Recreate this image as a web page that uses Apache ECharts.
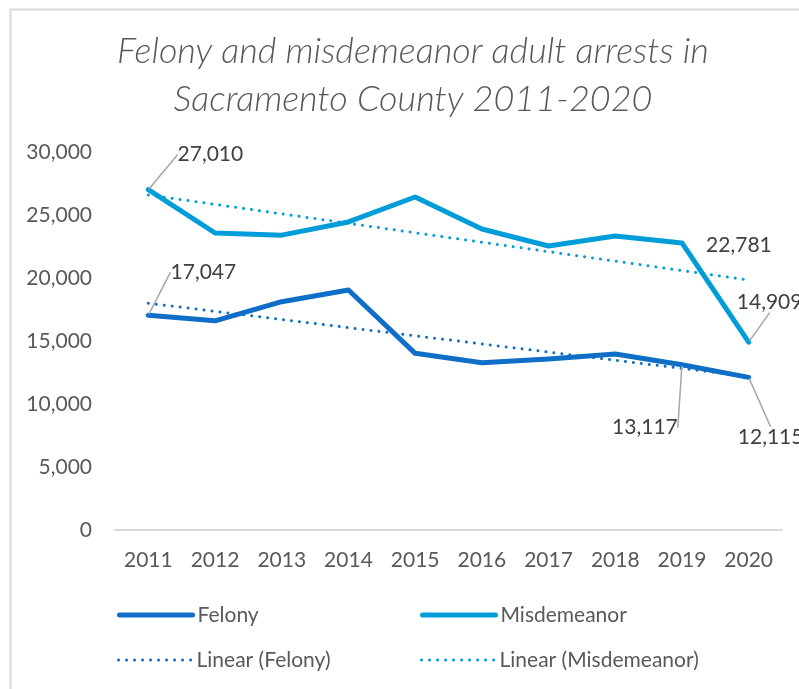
<!DOCTYPE html>
<html>
<head>
<meta charset="utf-8">
<script src="https://cdn.jsdelivr.net/npm/echarts@6/dist/echarts.min.js"></script>
<style>
  html, body { margin: 0; padding: 0; background: #fff; }
  #chart { width: 799px; height: 689px; }
</style>
</head>
<body>
<div id="chart"></div>
<script>
// years on the x axis
const years = ['2011', '2012', '2013', '2014', '2015', '2016', '2017', '2018', '2019', '2020'];
// adult arrests (labelled points are exact)
const felony = [17047, 16600, 18120, 19050, 14020, 13280, 13570, 13970, 13117, 12115];
const misdemeanor = [27010, 23570, 23400, 24450, 26430, 23890, 22540, 23330, 22781, 14909];
// trendline ends (2011 and 2020)
const felonyTrend = [18000, null, null, null, null, null, null, null, null, 12180];
const misdemeanorTrend = [26590, null, null, null, null, null, null, null, null, 19840];
// which points carry a value label
const felonyLabelled = [0, 8, 9];
const misdemeanorLabelled = [0, 8, 9];

const FONT = 'Lato';
const felonyColor = '#0F6FC6';
const misdColor = '#009DD9';

// label offsets from the point (pixels), keyed "series-index"
const labelShift = {
  '0-0': [55, -43], '0-8': [-37, 63], '0-9': [22, 60],
  '1-0': [62, -35], '1-8': [57, 2], '1-9': [21, -40]
};

function withLabels(values, labelled, noLine) {
  return values.map(function (v, i) {
    if (labelled.indexOf(i) < 0) return v;
    return {
      value: v,
      symbol: 'circle',
      symbolSize: 2,
      label: { show: true },
      labelLine: { show: noLine.indexOf(i) < 0 }
    };
  });
}

const fmt = v => v.toLocaleString('en-US');

let myChart = echarts.init(document.getElementById('chart'));
let option = {
  animation: false,
  backgroundColor: '#fff',
  textStyle: { fontFamily: FONT },
  graphic: [{
    type: 'rect',
    left: 8, top: 7,
    shape: { width: 900, height: 800 },
    style: { fill: 'none', stroke: '#d9d9d9', lineWidth: 2 },
    silent: true
  }],
  title: {
    text: 'Felony and misdemeanor adult arrests in\nSacramento County 2011-2020',
    left: 413,
    top: 27,
    padding: 0,
    textAlign: 'center',
    textStyle: {
      fontFamily: FONT, fontStyle: 'italic', fontWeight: 300,
      fontSize: 36, lineHeight: 48, color: '#595959'
    }
  },
  legend: [
    { data: ['Felony'], left: 112, top: 598 },
    { data: ['Misdemeanor'], left: 415, top: 598 },
    { data: ['Linear (Felony)'], left: 112, top: 643 },
    { data: ['Linear (Misdemeanor)'], left: 415, top: 643 }
  ].map(l => Object.assign(l, {
    itemWidth: 73, itemHeight: 14, itemGap: 0,
    lineStyle: { width: 'inherit' },
    itemStyle: { opacity: 0 },
    textStyle: { fontFamily: FONT, fontSize: 21, color: '#595959', lineHeight: 24 }
  })),
  grid: { left: 115, right: 17, top: 152, bottom: 159 },
  xAxis: {
    type: 'category',
    data: years,
    boundaryGap: true,
    axisLine: { lineStyle: { color: '#d9d9d9', width: 2 } },
    axisTick: { show: false },
    axisLabel: { margin: 20, fontFamily: FONT, fontSize: 21, color: '#595959' }
  },
  yAxis: {
    type: 'value',
    min: 0, max: 30000, interval: 5000,
    axisLine: { show: false },
    axisTick: { show: false },
    splitLine: { show: false },
    axisLabel: { margin: 23, fontFamily: FONT, fontSize: 21, color: '#595959', formatter: fmt }
  },
  series: [
    {
      name: 'Felony', type: 'line',
      data: withLabels(felony, felonyLabelled, []),
      symbol: 'none',
      lineStyle: { color: felonyColor, width: 5, join: 'round', cap: 'round' },
      itemStyle: { color: felonyColor },
      label: {
        position: 'inside', fontFamily: FONT, fontSize: 21, color: '#404040',
        formatter: p => fmt(p.value)
      },
      labelLine: { lineStyle: { color: '#a6a6a6', width: 1.5 } },
      labelLayout: p => { const s = labelShift['0-' + p.dataIndex] || [0, 0]; return { dx: s[0], dy: s[1] }; },
      z: 3
    },
    {
      name: 'Misdemeanor', type: 'line',
      data: withLabels(misdemeanor, misdemeanorLabelled, [8]),
      symbol: 'none',
      lineStyle: { color: misdColor, width: 5, join: 'round', cap: 'round' },
      itemStyle: { color: misdColor },
      label: {
        position: 'inside', fontFamily: FONT, fontSize: 21, color: '#404040',
        formatter: p => fmt(p.value)
      },
      labelLine: { lineStyle: { color: '#a6a6a6', width: 1.5 } },
      labelLayout: p => { const s = labelShift['1-' + p.dataIndex] || [0, 0]; return { dx: s[0], dy: s[1] }; },
      z: 3
    },
    {
      name: 'Linear (Felony)', type: 'line',
      data: felonyTrend, connectNulls: true, symbol: 'none',
      lineStyle: { color: felonyColor, width: 3, type: [0.01, 8], cap: 'round' },
      itemStyle: { color: felonyColor },
      z: 2
    },
    {
      name: 'Linear (Misdemeanor)', type: 'line',
      data: misdemeanorTrend, connectNulls: true, symbol: 'none',
      lineStyle: { color: misdColor, width: 3, type: [0.01, 8], cap: 'round' },
      itemStyle: { color: misdColor },
      z: 2
    }
  ]
};
myChart.setOption(option);
</script>
</body>
</html>
